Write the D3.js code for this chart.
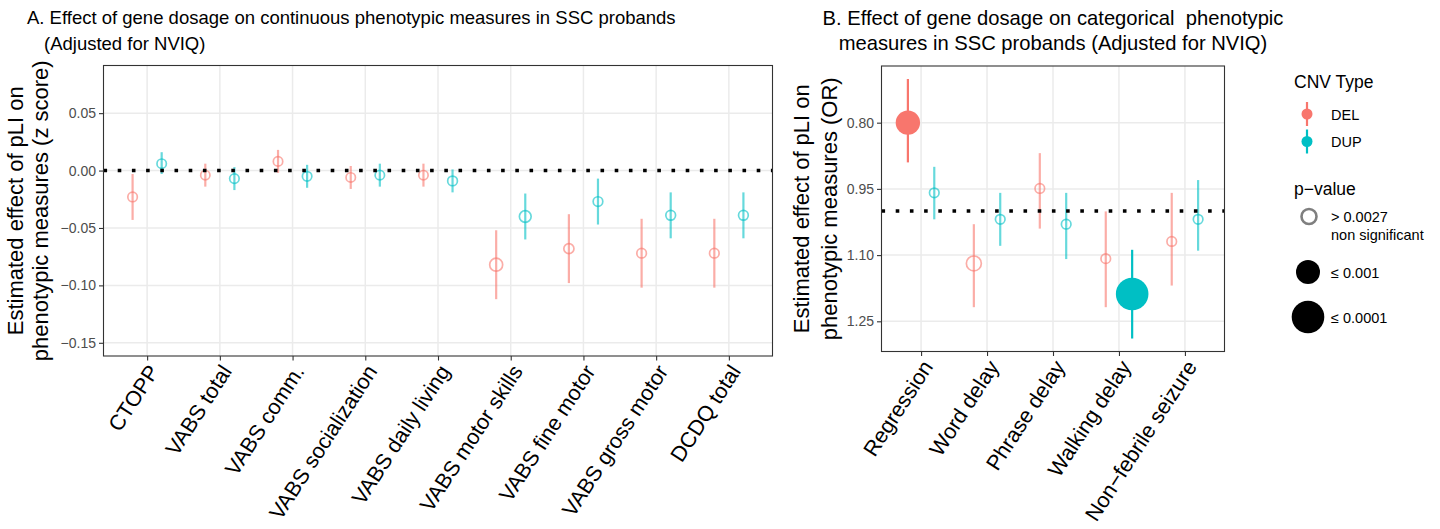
<!DOCTYPE html>
<html>
<head>
<meta charset="utf-8">
<script src="https://cdn.jsdelivr.net/npm/d3@7"></script>
<style>
  body { margin: 0; background: #fff; }
  text { font-family: "Liberation Sans", Arial, sans-serif; }
</style>
</head>
<body>
<svg id="chart" width="1440" height="529"></svg>
<script>
// ---- Panel A: continuous phenotypic measures (z score) ----
const continuousMeasures = ["CTOPP", "VABS total", "VABS comm.", "VABS socialization",
  "VABS daily living", "VABS motor skills", "VABS fine motor", "VABS gross motor", "DCDQ total"];
const contDelEstimate = [-0.023, -0.004, 0.008, -0.006, -0.004, -0.082, -0.068, -0.072, -0.072];
const contDelLower    = [-0.043, -0.014, -0.002, -0.016, -0.014, -0.112, -0.098, -0.102, -0.102];
const contDelUpper    = [-0.003, 0.006, 0.018, 0.004, 0.006, -0.052, -0.038, -0.042, -0.042];
const contDelPValue   = [0.62, 0.70, 0.65, 0.66, 0.68, 0.10, 0.45, 0.60, 0.60];
const contDupEstimate = [0.006, -0.007, -0.005, -0.004, -0.009, -0.040, -0.027, -0.039, -0.039];
const contDupLower    = [-0.003, -0.017, -0.015, -0.014, -0.019, -0.060, -0.047, -0.059, -0.059];
const contDupUpper    = [0.016, 0.003, 0.005, 0.006, 0.001, -0.020, -0.007, -0.019, -0.019];
const contDupPValue   = [0.66, 0.62, 0.64, 0.66, 0.55, 0.19, 0.58, 0.55, 0.55];
const contLimits = [-0.15, 0.08];
const contTicks = [0.05, 0.00, -0.05, -0.10, -0.15];

// ---- Panel B: categorical phenotypic measures (odds ratio) ----
const categoricalMeasures = ["Regression", "Word delay", "Phrase delay", "Walking delay", "Non\u2212febrile seizure"];
const catDelEstimate = [0.800, 1.119, 0.949, 1.108, 1.069];
const catDelLower    = [0.701, 1.030, 0.869, 1.001, 0.959];
const catDelUpper    = [0.890, 1.218, 1.040, 1.218, 1.169];
const catDelPValue   = [0.0009, 0.044, 0.60, 0.60, 0.60];
const catDupEstimate = [0.959, 1.019, 1.030, 1.188, 1.019];
const catDupLower    = [0.900, 0.959, 0.959, 1.088, 0.930];
const catDupUpper    = [1.019, 1.079, 1.109, 1.289, 1.090];
const catDupPValue   = [0.60, 0.60, 0.60, 0.0001, 0.60];
const catTicks = [0.80, 0.95, 1.10, 1.25];

// ---- shared encodings ----
const cnvTypes = ["DEL", "DUP"];
const cnvColors = ["#F8766D", "#00BFC4"];
const significanceThreshold = 0.0027;
const pLegendLabels = [["> 0.0027", "non significant"], ["\u2264 0.001"], ["\u2264 0.0001"]];
const pLegendValues = [null, 0.001, 0.0001];

const colour = d3.scaleOrdinal().domain(cnvTypes).range(cnvColors);
const radius = d3.scaleLinear().domain([0, 1, 3, 4]).range([4.3, 6.5, 12, 16.3]).clamp(true);
const sizeOf = p => radius(-Math.log10(p));

const svg = d3.select("#chart");
svg.append("rect").attr("width", 1440).attr("height", 529).attr("fill", "#fff");

function rows(categories, type, est, lo, hi, p) {
  return categories.map((c, i) => ({ category: c, type, est: est[i], lo: lo[i], hi: hi[i], p: p[i] }));
}

function drawPanel(cfg) {
  const { box, categories, data, yDomain, ticks, reverse, refValue } = cfg;
  const g = svg.append("g");

  const x = d3.scalePoint().domain(categories).range([box.left, box.right]).padding(0.6);
  const dodge = x.step() * 0.2;
  const y = d3.scaleLinear().domain(yDomain)
    .range(reverse ? [box.top, box.bottom] : [box.bottom, box.top]);

  // grid
  const grid = g.append("g").attr("stroke", "#EBEBEB").attr("stroke-width", 1.5);
  grid.selectAll("line.h").data(ticks).join("line")
    .attr("x1", box.left).attr("x2", box.right)
    .attr("y1", d => y(d)).attr("y2", d => y(d));
  grid.selectAll("line.v").data(categories).join("line")
    .attr("x1", d => x(d)).attr("x2", d => x(d))
    .attr("y1", box.top).attr("y2", box.bottom);

  const xpos = d => x(d.category) + (d.type === "DEL" ? -dodge : dodge);
  const sig = d => d.p <= significanceThreshold;

  // error bars
  g.append("g").selectAll("line").data(data).join("line")
    .attr("x1", xpos).attr("x2", xpos)
    .attr("y1", d => y(d.lo)).attr("y2", d => y(d.hi))
    .attr("stroke", d => colour(d.type))
    .attr("stroke-opacity", d => sig(d) ? 1 : 0.6)
    .attr("stroke-width", 2.2);

  // points: filled when significant, open otherwise
  g.append("g").selectAll("circle").data(data).join("circle")
    .attr("cx", xpos).attr("cy", d => y(d.est))
    .attr("r", d => sizeOf(d.p))
    .attr("fill", d => sig(d) ? colour(d.type) : "none")
    .attr("stroke", d => sig(d) ? "none" : colour(d.type))
    .attr("stroke-opacity", 0.6)
    .attr("stroke-width", 1.7);

  // reference line
  g.append("line")
    .attr("x1", box.left).attr("x2", box.right)
    .attr("y1", y(refValue)).attr("y2", y(refValue))
    .attr("stroke", "#000").attr("stroke-width", 3.6)
    .attr("stroke-dasharray", "3.6,10.6");

  // panel border
  g.append("rect")
    .attr("x", box.left).attr("y", box.top)
    .attr("width", box.right - box.left).attr("height", box.bottom - box.top)
    .attr("fill", "none").attr("stroke", "#333").attr("stroke-width", 1.1);

  // y axis
  const yAxis = g.append("g").attr("transform", `translate(${box.left},0)`)
    .call(d3.axisLeft(y).tickValues(ticks).tickFormat(d3.format(".2f")).tickSize(4.5).tickPadding(3));
  yAxis.select(".domain").remove();
  yAxis.selectAll(".tick line").attr("stroke", "#333").attr("stroke-width", 1.1);
  yAxis.selectAll(".tick text").attr("fill", "#4D4D4D").style("font-size", "14px")
    .style("font-family", '"Liberation Sans", Arial, sans-serif');

  // x axis
  const xAxis = g.append("g").attr("transform", `translate(0,${box.bottom})`)
    .call(d3.axisBottom(x).tickSize(4.5).tickFormat(""));
  xAxis.select(".domain").remove();
  xAxis.selectAll(".tick line").attr("stroke", "#333").attr("stroke-width", 1.1);
  g.append("g").selectAll("text").data(categories).join("text")
    .attr("transform", d => `translate(${x(d)},${box.bottom + 7}) rotate(-57)`)
    .attr("text-anchor", "end").attr("dy", "0.71em")
    .style("font-size", cfg.xLabelSize + "px").attr("fill", "#000")
    .text(d => d);

  // y axis title (two lines)
  const cy = (box.top + box.bottom) / 2;
  cfg.yTitle.forEach((line, i) => {
    g.append("text")
      .attr("transform", `translate(${cfg.yTitleX[i]},${cy}) rotate(-90)`)
      .attr("text-anchor", "middle").style("font-size", cfg.yTitleSize + "px")
      .text(line);
  });

  // panel title
  cfg.title.forEach((line, i) => {
    g.append("text")
      .attr("x", cfg.titleX[i]).attr("y", cfg.titleY[i])
      .attr("text-anchor", cfg.titleAnchor)
      .style("font-size", cfg.titleSize + "px")
      .style("white-space", "pre")
      .text(line);
  });
}

// Panel A
const contData = rows(continuousMeasures, "DEL", contDelEstimate, contDelLower, contDelUpper, contDelPValue)
  .concat(rows(continuousMeasures, "DUP", contDupEstimate, contDupLower, contDupUpper, contDupPValue));
const contSpan = contLimits[1] - contLimits[0];
drawPanel({
  box: { left: 103.5, right: 772.5, top: 65.5, bottom: 356 },
  categories: continuousMeasures,
  data: contData,
  yDomain: [contLimits[0] - 0.05 * contSpan, contLimits[1] + 0.05 * contSpan],
  ticks: contTicks,
  reverse: false,
  refValue: 0,
  xLabelSize: 21.5,
  yTitle: ["Estimated effect of pLI on", "phenotypic measures (z score)"],
  yTitleX: [23, 48],
  yTitleSize: 22,
  title: ["A. Effect of gene dosage on continuous phenotypic measures in SSC probands", "(Adjusted for NVIQ)"],
  titleX: [27, 44],
  titleY: [24, 50],
  titleAnchor: "start",
  titleSize: 18.5
});

// Panel B
const catData = rows(categoricalMeasures, "DEL", catDelEstimate, catDelLower, catDelUpper, catDelPValue)
  .concat(rows(categoricalMeasures, "DUP", catDupEstimate, catDupLower, catDupUpper, catDupPValue));
const catExtent = [d3.min(catData, d => d.lo), d3.max(catData, d => d.hi)];
const catSpan = catExtent[1] - catExtent[0];
drawPanel({
  box: { left: 881.5, right: 1224.5, top: 66, bottom: 351.5 },
  categories: categoricalMeasures,
  data: catData,
  yDomain: [catExtent[0] - 0.05 * catSpan, catExtent[1] + 0.05 * catSpan],
  ticks: catTicks,
  reverse: true,
  refValue: 1,
  xLabelSize: 21.5,
  yTitle: ["Estimated effect of pLI on", "phenotypic measures (OR)"],
  yTitleX: [809, 837],
  yTitleSize: 22,
  title: ["B. Effect of gene dosage on categorical  phenotypic", "measures in SSC probands (Adjusted for NVIQ)"],
  titleX: [1053, 1053],
  titleY: [25, 50],
  titleAnchor: "middle",
  titleSize: 20.2
});

// ---- legends ----
const legend = svg.append("g");
legend.append("text").attr("x", 1294).attr("y", 88).style("font-size", "17.5px").text("CNV Type");
cnvTypes.forEach((t, i) => {
  const cy = 114 + i * 27.5;
  legend.append("line").attr("x1", 1307).attr("x2", 1307).attr("y1", cy - 12).attr("y2", cy + 12)
    .attr("stroke", colour(t)).attr("stroke-width", 2.2);
  legend.append("circle").attr("cx", 1307).attr("cy", cy).attr("r", 5.5).attr("fill", colour(t));
  legend.append("text").attr("x", 1331).attr("y", cy + 5.5).style("font-size", "14.5px").text(t);
});

legend.append("text").attr("x", 1294).attr("y", 195).style("font-size", "17.5px").text("p\u2212value");
const pKeyY = [216.5, 272, 317];
pLegendValues.forEach((p, i) => {
  if (p === null) {
    legend.append("circle").attr("cx", 1309).attr("cy", pKeyY[i]).attr("r", 7.5)
      .attr("fill", "none").attr("stroke", "#7F7F7F").attr("stroke-width", 2.6);
  } else {
    legend.append("circle").attr("cx", 1308).attr("cy", pKeyY[i]).attr("r", sizeOf(p)).attr("fill", "#000");
  }
  pLegendLabels[i].forEach((line, j) => {
    legend.append("text").attr("x", 1331).attr("y", pKeyY[i] + 5.5 + j * 18)
      .style("font-size", "14.5px").text(line);
  });
});
</script>
</body>
</html>
